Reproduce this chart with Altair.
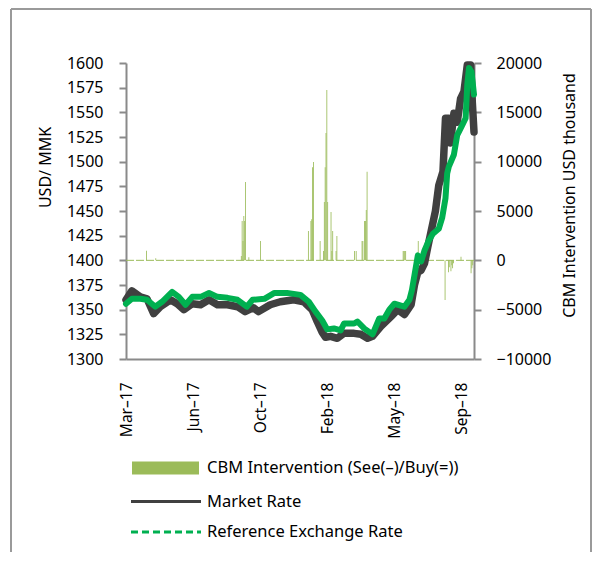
import altair as alt
import pandas as pd

# ---- data (x = trading-day index on a category-like axis) ----
ref_x = [0, 7, 17, 25, 35, 43, 55, 63, 71, 79, 89, 99, 109, 121, 133, 144, 151, 165, 177, 192,
         208, 218, 226, 234, 240, 248, 256, 260, 272, 276, 284, 294, 302, 308, 314, 320, 332, 338,
         341, 344, 348, 352, 356, 361, 366, 373, 377, 381, 383, 385, 391, 395, 401, 405, 407, 409,
         412, 415]
ref_y = [1356, 1361, 1361, 1360, 1353, 1358, 1368, 1363, 1355, 1363, 1363, 1367, 1363, 1362, 1360,
         1353, 1360, 1361, 1367, 1367, 1365, 1358, 1348, 1339, 1330, 1331, 1329, 1336, 1336, 1338,
         1331, 1325, 1341, 1341, 1350, 1356, 1353, 1360, 1370, 1385, 1405, 1399, 1410, 1420, 1427,
         1432, 1443, 1463, 1488, 1495, 1507, 1527, 1537, 1544, 1578, 1595, 1591, 1568]

mkt_x = [0, 7, 17, 25, 33, 41, 53, 61, 69, 79, 89, 99, 109, 121, 133, 142, 152, 158, 172, 184,
         200, 212, 222, 228, 234, 238, 244, 252, 260, 272, 280, 288, 294, 304, 316, 324, 332, 340,
         344, 348, 352, 356, 360, 364, 369, 373, 378, 381, 385, 387, 391, 395, 399, 403, 407, 411,
         413, 415]
mkt_y = [1360, 1369, 1363, 1361, 1346, 1353, 1360, 1356, 1350, 1356, 1355, 1360, 1355, 1355, 1353,
         1348, 1352, 1348, 1355, 1358, 1360, 1358, 1350, 1338, 1327, 1322, 1323, 1321, 1326, 1326,
         1325, 1321, 1323, 1333, 1343, 1350, 1345, 1355, 1375, 1388, 1390, 1397, 1414, 1430, 1450,
         1476, 1490, 1544, 1544, 1519, 1549, 1540, 1564, 1571, 1598, 1598, 1560, 1530]

bar_x = [24, 35, 137, 138, 139, 140, 141, 142, 146, 160, 217, 220, 221, 222, 223, 231, 235, 236,
         237, 238, 239, 240, 244, 245, 246, 250, 251, 272, 274, 281, 282, 284, 285, 286, 287, 330,
         331, 332, 333, 348, 380, 384, 385, 387, 388, 389, 390, 399, 411, 412, 413]
bar_v = [980, 200, 450, 3990, 1960, 4490, 3990, 7940, 300, 1960, 2970, 3990, 4160, 9430, 9970, 1960,
         950, 5910, 9430, 12900, 17260, 5910, 4900, 950, 2970, 950, 2470, 950, 950, 1960, 1960, 3990,
         3990, 5100, 8980, 950, 950, 950, 950, 1960, -4020, -1200, -700, -1100, -500, -800, -300, 370,
         -1300, -800, -500]

tick_idx = [0, 80, 160, 240, 320, 400]
tick_lbl = ["Mar–17", "Jun–17", "Oct–17", "Feb–18", "May–18", "Sep–18"]
left_ticks = list(range(1300, 1601, 25))
right_ticks = list(range(-10000, 20001, 5000))

BAR_LABEL = "CBM Intervention (See(–)/Buy(=))"
MKT_LABEL = "Market Rate"
REF_LABEL = "Reference Exchange Rate"

FONT = "Noto Sans"
AXIS_GRAY = "#8A8A8A"
OLIVE = "#9BBB59"
DARK = "#404040"
GREEN = "#00B050"

ref_df = pd.DataFrame({"idx": ref_x, "rate": ref_y, "series": REF_LABEL})
mkt_df = pd.DataFrame({"idx": mkt_x, "rate": mkt_y, "series": MKT_LABEL})
bar_df = pd.DataFrame({"idx": bar_x, "val": bar_v, "series": BAR_LABEL})

label_expr = " : ".join(f"datum.value == {i} ? '{l}'" for i, l in zip(tick_idx, tick_lbl)) + " : ''"

x_scale = alt.Scale(domain=[0, 415], nice=False, zero=False)
x_axis = alt.Axis(values=tick_idx, labelExpr=label_expr, labelAngle=-90, ticks=False,
                  labelPadding=23, grid=False, title=None, orient="bottom", labelFontSize=15.5)

left_axis = alt.Axis(orient="left", values=left_ticks, format="d", title="USD/ MMK", titleAngle=-90,
                     titleX=-81, titleY=104, titleAlign="center", titleBaseline="middle",
                     labelPadding=16, tickSize=7, grid=False)
right_axis = alt.Axis(orient="right", values=right_ticks, format="d",
                      title="CBM Intervention USD thousand", titleAngle=-90,
                      titleX=95, titleY=132, titleAlign="center", titleBaseline="middle",
                      labelPadding=15, tickSize=7, grid=False)

y_left = alt.Scale(domain=[1300, 1600], nice=False, zero=False)
y_right = alt.Scale(domain=[-10000, 20000], nice=False, zero=False)

common_leg = dict(title=None, orient="none", padding=0, labelFont=FONT, labelFontSize=16.5,
                  labelColor="black", labelLimit=400)

bars = alt.Chart(bar_df).mark_bar(strokeWidth=0).transform_calculate(
    idx2="datum.idx + 1"
).encode(
    x=alt.X("idx:Q", scale=x_scale, axis=x_axis),
    x2="idx2:Q",
    y=alt.Y("val:Q", scale=y_right, axis=right_axis),
    y2=alt.datum(0),
    fill=alt.Fill("series:N", scale=alt.Scale(domain=[BAR_LABEL], range=[OLIVE]),
                  legend=alt.Legend(legendX=6, legendY=371.5,
                                    symbolType="M-1,-0.194H1V0.194H-1Z", symbolSize=4489,
                                    symbolStrokeWidth=0, labelOffset=8, **common_leg)),
)

base_rule = alt.Chart(pd.DataFrame({"v": [0]})).mark_rule(
    color=OLIVE, strokeWidth=1, strokeDash=[8, 2]
).encode(y=alt.datum(0))

bar_group = alt.layer(base_rule, bars)

mkt = alt.Chart(mkt_df).mark_line(strokeWidth=7.5, strokeJoin="round", strokeCap="round").encode(
    x=alt.X("idx:Q", scale=x_scale, axis=x_axis),
    y=alt.Y("rate:Q", scale=y_left, axis=left_axis),
    stroke=alt.Stroke("series:N", scale=alt.Scale(domain=[MKT_LABEL], range=[DARK]),
                      legend=alt.Legend(legendX=3.5, legendY=402, symbolType="stroke",
                                        symbolSize=4900, symbolStrokeWidth=3, labelOffset=4.5,
                                        **common_leg)),
)

ref = alt.Chart(ref_df).mark_line(color=GREEN, strokeWidth=6, strokeJoin="round",
                                  strokeCap="round").encode(
    x=alt.X("idx:Q", scale=x_scale, axis=x_axis),
    y=alt.Y("rate:Q", scale=y_left, axis=left_axis),
    opacity=alt.Opacity("series:N", scale=alt.Scale(domain=[REF_LABEL], range=[1]),
                        legend=alt.Legend(legendX=3.5, legendY=432.5, symbolType="stroke",
                                          symbolSize=4900, symbolStrokeWidth=3,
                                          symbolStrokeColor=GREEN, symbolDash=[7, 4],
                                          labelOffset=4.5, **common_leg)),
)

line_group = alt.layer(mkt, ref)

frame_src = pd.DataFrame({"a": [0]})
frame_left = alt.Chart(frame_src).mark_rule(color="#9A9A9A", strokeWidth=2).encode(
    x=alt.value(-115), y=alt.value(-54), y2=alt.value(495))
frame_top = alt.Chart(frame_src).mark_rule(color="#9A9A9A", strokeWidth=2).encode(
    x=alt.value(-115), x2=alt.value(465), y=alt.value(-54))
frame_right = alt.Chart(frame_src).mark_rule(color="#9A9A9A", strokeWidth=2).encode(
    x=alt.value(465), y=alt.value(-54), y2=alt.value(495))

chart = alt.layer(bar_group, line_group, frame_left, frame_top, frame_right).resolve_scale(
    y="independent"
).properties(
    width=348, height=296,
    padding={"left": 118, "top": 55, "right": 119, "bottom": 193},
    autosize=alt.AutoSizeParams(type="none"),
).configure_view(stroke=None).configure_axis(
    domainColor=AXIS_GRAY, domainWidth=2, tickColor=AXIS_GRAY, tickWidth=2,
    labelFont=FONT, labelFontSize=16, labelColor="black",
    titleFont=FONT, titleFontSize=16, titleFontWeight="normal", titleColor="black",
)

chart.save("out.html", embed_options={"renderer": "svg", "actions": False})
